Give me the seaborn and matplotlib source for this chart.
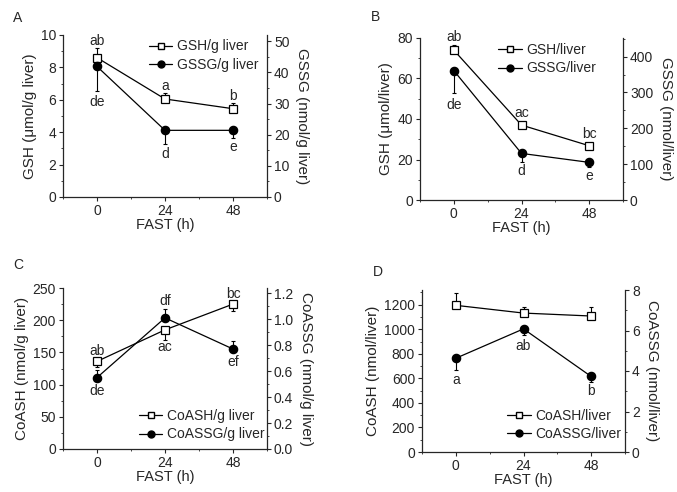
import matplotlib
matplotlib.use("Agg")
import matplotlib.pyplot as plt
import seaborn as sns
import pandas as pd
from matplotlib.lines import Line2D
from matplotlib.ticker import MultipleLocator

sns.set_style("ticks")
plt.rcParams['font.family'] = ['Liberation Sans', 'DejaVu Sans']
plt.rcParams['font.size'] = 10

hours = [0, 24, 48]
hour_ticks = ["0", "24", "48"]

# Panel A (per g liver)
gsh_g = [8.6, 6.05, 5.45]
gsh_g_err = [0.6, 0.35, 0.35]
gssg_g = [41.9, 21.4, 21.4]
gssg_g_err = [8.0, 4.5, 2.5]

# Panel B (per liver)
gsh_l = [74.0, 37.0, 26.8]
gsh_l_err = [2.5, 1.0, 1.2]
gssg_l = [361, 130, 105]
gssg_l_err = [62, 23, 12]

# Panel C (per g liver)
coash_g = [136, 185, 225]
coash_g_err = [8, 15, 11]
coassg_g = [0.55, 1.01, 0.77]
coassg_g_err = [0.06, 0.07, 0.06]

# Panel D (per liver)
coash_l = [1195, 1132, 1108]
coash_l_err = [100, 50, 73]
coassg_l = [4.63, 6.08, 3.73]
coassg_l_err = [0.6, 0.3, 0.25]

W, H = 677, 492
fig = plt.figure(figsize=(W / 100, H / 100), dpi=100)


def box(l, r, t, b):
    return [l / W, 1 - b / H, (r - l) / W, (b - t) / H]


def err_dir(vals, errs, up):
    z = [0] * len(errs)
    return [z, errs] if up else [errs, z]


def panel(pos, letter, letter_xy, left, right, lcfg, rcfg, legend_cfg, notes):
    ax = fig.add_axes(pos)
    ax2 = ax.twinx()
    for a, s, cfg in ((ax, left, lcfg), (ax2, right, rcfg)):
        vals, errs, up, marker, face, label = s
        a.errorbar(hours, vals, yerr=err_dir(vals, errs, up), fmt='none',
                   ecolor='black', elinewidth=0.8, capsize=1.5, capthick=0.8, zorder=2)
        df = pd.DataFrame({"h": hours, "v": vals})
        sns.lineplot(data=df, x="h", y="v", ax=a, color='black', lw=0.9,
                     marker=marker, markersize=6 if marker == 'o' else 5.2,
                     markerfacecolor=face, markeredgecolor='black',
                     markeredgewidth=0.9, zorder=3, legend=False)
        a.set_ylim(*cfg['lim'])
        a.set_yticks(cfg['ticks'])
        if 'fmt' in cfg:
            a.set_yticklabels([cfg['fmt'].format(t) for t in cfg['ticks']])
        a.yaxis.set_minor_locator(MultipleLocator(cfg['minor']))
        a.set_xlabel("")
    ax.set_xlim(-12, 60)
    ax.set_xticks(hours)
    ax.set_xticklabels(hour_ticks)
    ax.xaxis.set_minor_locator(MultipleLocator(12))
    ax.set_xlabel("FAST (h)", labelpad=0, fontsize=10.5)
    ax.set_ylabel(lcfg['label'], labelpad=3, fontsize=11)
    ax2.set_ylabel(rcfg['label'], rotation=-90, labelpad=14, fontsize=11)
    for a in (ax, ax2):
        a.tick_params(which='major', length=3, width=0.8, labelsize=10, pad=2)
        a.tick_params(which='minor', length=1.5, width=0.6)
        for sp in a.spines.values():
            sp.set_linewidth(0.9)
        a.spines['top'].set_visible(False)
    ax.spines['right'].set_visible(False)
    ax2.spines['left'].set_visible(False)
    ax2.spines['bottom'].set_visible(False)

    handles = [
        Line2D([], [], color='black', lw=0.9, marker=left[3], markerfacecolor=left[4],
               markeredgecolor='black', markersize=4.5),
        Line2D([], [], color='black', lw=0.9, marker=right[3], markerfacecolor=right[4],
               markeredgecolor='black', markersize=5),
    ]
    ax2.legend(handles, [left[5], right[5]], frameon=False, loc=legend_cfg['loc'],
               bbox_to_anchor=legend_cfg['anchor'], fontsize=10, handlelength=1.7,
               handletextpad=0.3, labelspacing=0.3, borderpad=0.2, borderaxespad=0)

    for which, idx, txt, dy in notes:
        a = ax if which == 0 else ax2
        vals = left[0] if which == 0 else right[0]
        a.annotate(txt, xy=(hours[idx], vals[idx]), xytext=(0, dy),
                   textcoords='offset pixels', ha='center', va='center', fontsize=10,
                   zorder=5)

    fig.text(letter_xy[0] / W, 1 - letter_xy[1] / H, letter, fontsize=10,
             ha='center', va='center')
    return ax, ax2


panel(box(63, 267, 35, 197), "A", (18, 18),
      (gsh_g, gsh_g_err, True, 's', 'white', "GSH/g liver"),
      (gssg_g, gssg_g_err, False, 'o', 'black', "GSSG/g liver"),
      dict(lim=(0, 10), ticks=[0, 2, 4, 6, 8, 10], minor=1, label="GSH (μmol/g liver)"),
      dict(lim=(0, 52), ticks=[0, 10, 20, 30, 40, 50], minor=5, label="GSSG (nmol/g liver)"),
      dict(loc='upper right', anchor=(0.97, 0.99)),
      [(0, 0, "ab", 17), (1, 0, "de", -36), (0, 1, "a", 13), (1, 1, "d", -24),
       (0, 2, "b", 13), (1, 2, "e", -17)])

panel(box(420, 623, 38, 200), "B", (376, 17),
      (gsh_l, gsh_l_err, True, 's', 'white', "GSH/liver"),
      (gssg_l, gssg_l_err, False, 'o', 'black', "GSSG/liver"),
      dict(lim=(0, 80), ticks=[0, 20, 40, 60, 80], minor=10, label="GSH (μmol/liver)"),
      dict(lim=(0, 452), ticks=[0, 100, 200, 300, 400], minor=50, label="GSSG (nmol/liver)"),
      dict(loc='upper right', anchor=(0.88, 0.985)),
      [(0, 0, "ab", 13), (1, 0, "de", -34), (0, 1, "ac", 12), (1, 1, "d", -18),
       (0, 2, "bc", 12), (1, 2, "e", -14)])

panel(box(63, 267, 288, 449), "C", (18, 265),
      (coash_g, coash_g_err, False, 's', 'white', "CoASH/g liver"),
      (coassg_g, coassg_g_err, True, 'o', 'black', "CoASSG/g liver"),
      dict(lim=(0, 250), ticks=[0, 50, 100, 150, 200, 250], minor=25, label="CoASH (nmol/g liver)"),
      dict(lim=(0, 1.24), ticks=[0, 0.2, 0.4, 0.6, 0.8, 1.0, 1.2], minor=0.1,
           fmt="{:.1f}", label="CoASSG (nmol/g liver)"),
      dict(loc='lower right', anchor=(1.0, 0.03)),
      [(0, 0, "ab", 10), (1, 0, "de", -13), (1, 1, "df", 17), (0, 1, "ac", -17),
       (0, 2, "bc", 10), (1, 2, "ef", -13)])

panel(box(422, 625, 290, 452), "D", (378, 272),
      (coash_l, coash_l_err, True, 's', 'white', "CoASH/liver"),
      (coassg_l, coassg_l_err, False, 'o', 'black', "CoASSG/liver"),
      dict(lim=(0, 1320), ticks=[0, 200, 400, 600, 800, 1000, 1200], minor=100,
           label="CoASH (nmol/liver)"),
      dict(lim=(0, 8), ticks=[0, 2, 4, 6, 8], minor=1, label="CoASSG (nmol/liver)"),
      dict(loc='lower right', anchor=(0.995, 0.05)),
      [(1, 0, "a", -22), (1, 1, "ab", -17), (1, 2, "b", -15)])

fig.savefig("out.png", dpi=100)
